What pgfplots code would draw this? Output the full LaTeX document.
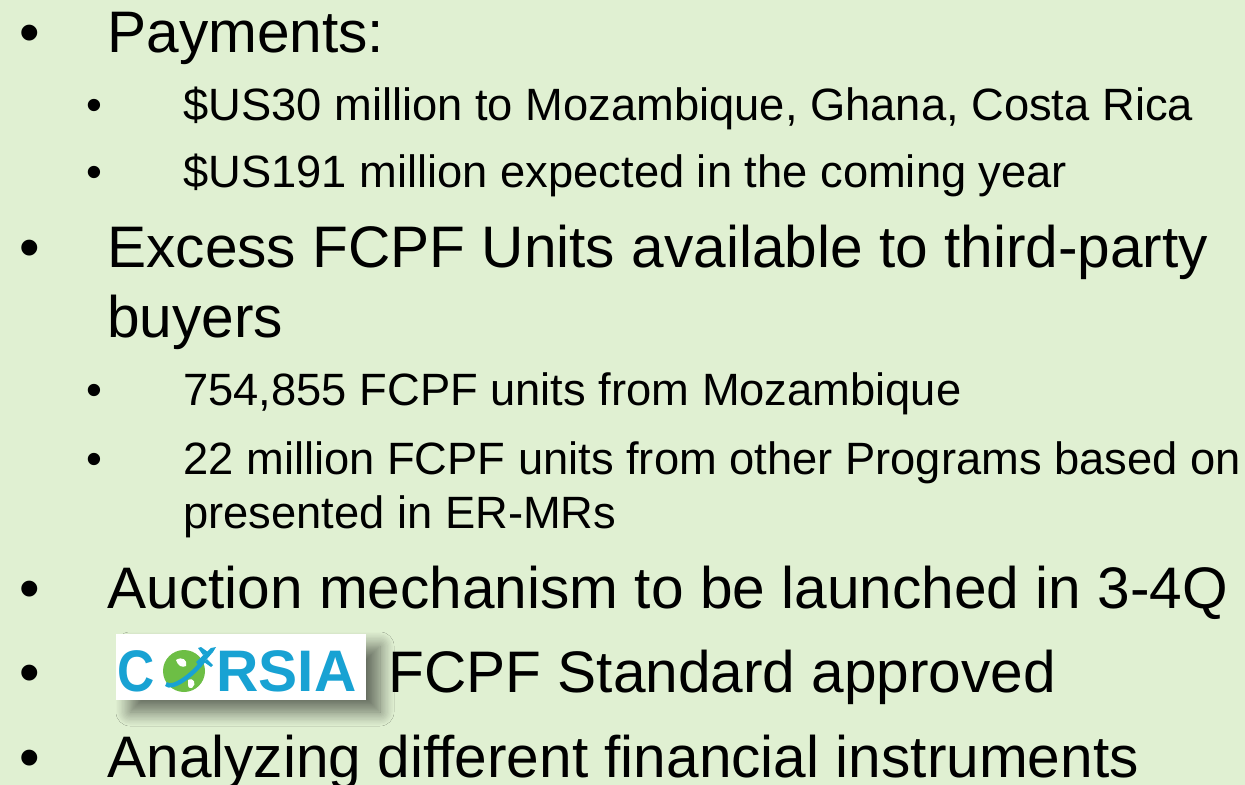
\documentclass[border=0pt]{standalone}
\usepackage{fontspec}
\setmainfont{Liberation Sans}
\usepackage{pgfplots}
\pgfplotsset{compat=1.18}
\usetikzlibrary{shadows.blur}
\definecolor{bg}{HTML}{E0F0D2}
\definecolor{cblue}{HTML}{18A2D3}
\definecolor{cgreen}{HTML}{6DBE45}
\newcommand\bigtxt{\fontsize{29.3pt}{35pt}\selectfont}
\newcommand\smalltxt{\fontsize{22.65pt}{27pt}\selectfont}
\newcommand\logotxt{\fontsize{29.3pt}{35pt}\selectfont\bfseries}
\begin{document}
\begin{tikzpicture}
\useasboundingbox (0,0) rectangle (622.5pt,392.5pt);
\clip (0,0) rectangle (622.5pt,392.5pt);
\fill[bg] (0,0) rectangle (622.5pt,392.5pt);
\begin{axis}[at={(0,0)}, anchor=south west, scale only axis,
  width=622.5pt, height=392.5pt, xmin=0, xmax=1245, ymin=0, ymax=785,
  y dir=reverse, hide axis, clip=false]
\addplot[draw=none] coordinates {(0,0) (1245,785)};
% big bullets
\foreach \yy in {53,268,608,692,777}{
  \edef\tmp{\noexpand\node[anchor=base west, inner sep=0, font=\noexpand\bigtxt] at (axis cs:19,\yy) {\noexpand\textbullet};}
  \tmp}
% small bullets
\foreach \yy in {121,188,406,474}{
  \edef\tmp{\noexpand\node[anchor=base west, inner sep=0, font=\noexpand\smalltxt] at (axis cs:86,\yy) {\noexpand\textbullet};}
  \tmp}
\node[anchor=base west, inner sep=0, font=\bigtxt] at (axis cs:107,53) {Payments:};
\node[anchor=base west, inner sep=0, font=\smalltxt] at (axis cs:183,121) {\$US30 million to Mozambique, Ghana, Costa Rica};
\node[anchor=base west, inner sep=0, font=\smalltxt] at (axis cs:183,188) {\$US191 million expected in the coming year};
\node[anchor=base west, inner sep=0, font=\bigtxt] at (axis cs:107,268) {Excess FCPF Units available to third-party};
\node[anchor=base west, inner sep=0, font=\bigtxt] at (axis cs:107,338) {buyers};
\node[anchor=base west, inner sep=0, font=\smalltxt] at (axis cs:183,406) {754,855 FCPF units from Mozambique};
\node[anchor=base west, inner sep=0, font=\smalltxt] at (axis cs:183,474) {22 million FCPF units from other Programs based on};
\node[anchor=base west, inner sep=0, font=\smalltxt] at (axis cs:183,528) {presented in ER-MRs};
\node[anchor=base west, inner sep=0, font=\bigtxt] at (axis cs:107,608) {Auction mechanism to be launched in 3-4Q};
\node[anchor=base west, inner sep=0, font=\bigtxt] at (axis cs:388,692) {FCPF Standard approved};
\node[anchor=base west, inner sep=0, font=\bigtxt] at (axis cs:107,777) {Analyzing different financial instruments};
% CORSIA logo
\fill[white, blur shadow={shadow xshift=7pt, shadow yshift=-6pt, shadow blur radius=7pt, shadow opacity=55, shadow blur steps=12}] (axis cs:116,634) rectangle (axis cs:366,700);
\node[anchor=base west, inner sep=0, font=\logotxt, text=cblue, xscale=0.88] at (axis cs:117,691) {C};
\node[anchor=base west, inner sep=0, font=\logotxt, text=cblue] at (axis cs:216,691) {RSIA};
\fill[cgreen] (axis cs:184,671) circle (10.5pt);
\fill[white] (axis cs:176,660) .. controls (axis cs:182,656) and (axis cs:188,660) .. (axis cs:186,666) .. controls (axis cs:182,668) and (axis cs:178,666) .. cycle;
\fill[white] (axis cs:188,680) .. controls (axis cs:194,677) and (axis cs:197,684) .. (axis cs:192,688) .. controls (axis cs:188,688) .. cycle;
\draw[cblue, line width=2.2pt] (axis cs:166,684) .. controls (axis cs:172,690) and (axis cs:192,676) .. (axis cs:204,660);
\fill[cblue] (axis cs:196,662) -- (axis cs:211,648) -- (axis cs:216,647) -- (axis cs:213,652) -- (axis cs:200,667) -- cycle;
\fill[cblue] (axis cs:203,655) -- (axis cs:198,648) -- (axis cs:201,647) -- (axis cs:208,652) -- cycle;
\fill[cblue] (axis cs:207,659) -- (axis cs:213,665) -- (axis cs:211,667) -- (axis cs:204,662) -- cycle;
\end{axis}
\end{tikzpicture}
\end{document}
